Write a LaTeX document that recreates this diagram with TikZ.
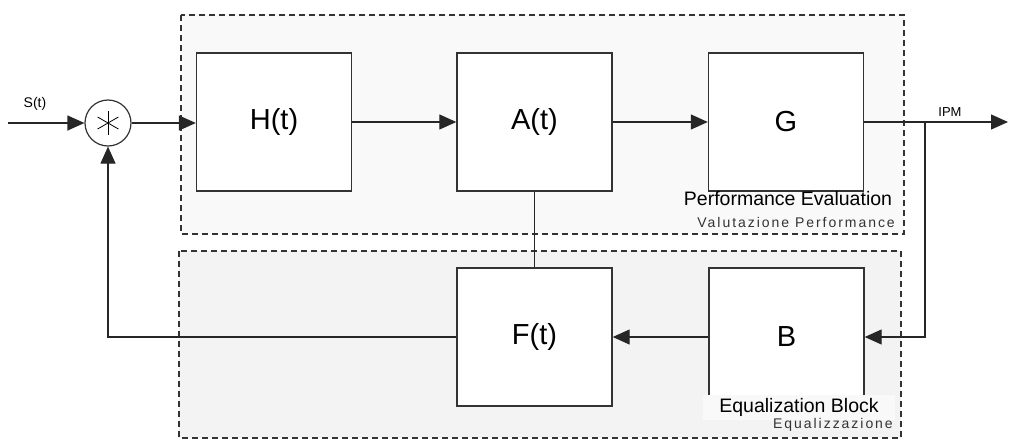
\documentclass[tikz,border=0pt]{standalone}
\usepackage{fontspec}
\setmainfont{Liberation Sans}
\usetikzlibrary{arrows.meta,calc}
\definecolor{topfill}{HTML}{F9F9F9}
\definecolor{botfill}{HTML}{F3F3F3}
\definecolor{edge}{HTML}{333333}
\tikzset{
  blockbox/.style={draw=edge, line width=1.4pt, fill=white, minimum width=155pt, minimum height=138pt, inner sep=0pt, font=\fontsize{29}{32}\selectfont},
  groupbox/.style={draw=edge, line width=1.2pt, dash pattern=on 6pt off 4pt},
  wire/.style={draw=black!85, line width=1.2pt},
  arr/.style={wire, -{Triangle[length=17pt,width=15pt]}},
  biglabel/.style={font=\fontsize{19.5}{21}\selectfont, inner sep=2pt},
  smalllabel/.style={font=\fontsize{14}{15}\selectfont\addfontfeatures{LetterSpace=14}, inner sep=0pt, text=black!80},
}
\begin{document}
\begin{tikzpicture}[x=1pt,y=-1pt]
\useasboundingbox (0,0) rectangle (1011,439);
% group frames
\draw[groupbox, fill=topfill] (181,15) rectangle (904,234);
\draw[groupbox, fill=botfill] (179,251) rectangle (901,438);
% blocks
\node[blockbox] (H) at (274,122) {H(t)};
\node[blockbox] (A) at (534.5,122) {A(t)};
\node[blockbox] (G) at (786,122) {G};
\node[blockbox] (F) at (534.5,337) {F(t)};
\node[blockbox] (B) at (786.5,337) {B};
% summing junction
\node[draw=edge, line width=1.2pt, circle, minimum size=46pt, inner sep=0pt, fill=white] (sum) at (108,123) {};
\foreach \a in {90,30,150} {
  \draw[line width=0.8pt] ($(sum.center)+(\a:12pt)$) -- ($(sum.center)+(\a+180:12pt)$);
}
% group labels
\node[biglabel, anchor=center] (pe) at (788,199) {Performance Evaluation};
\node[smalllabel, anchor=east] (vp) at (895,222) {Valutazione Performance};
\node[biglabel, fill=topfill, minimum width=192pt, minimum height=25pt] (eb) at (799,407.5) {Equalization Block};
\node[smalllabel, anchor=east] (eq) at (893,425) {Equalizzazione};
% connectors
\coordinate (in) at (8,123);
\coordinate (out) at (1008,122);
\coordinate (branch) at (925,122);
\draw[arr] (in) -- (sum.west);
\node[font=\fontsize{14}{15}\selectfont, inner sep=0pt] (s) at (35,104) {S(t)};
\draw[arr] (sum.east) -- (H.west |- sum.east);
\draw[arr] (H) -- (A);
\draw[arr] (A) -- (G);
\draw[arr] (G) -- (out);
\node[font=\fontsize{13}{14}\selectfont, inner sep=0pt] (ipm) at (950,112) {IPM};
\draw[arr] (branch) |- (B.east);
\draw[arr] (B) -- (F);
\draw[wire] (A) -- (F);
\draw[arr] (F.west) -| (sum.south);
\end{tikzpicture}
\end{document}
